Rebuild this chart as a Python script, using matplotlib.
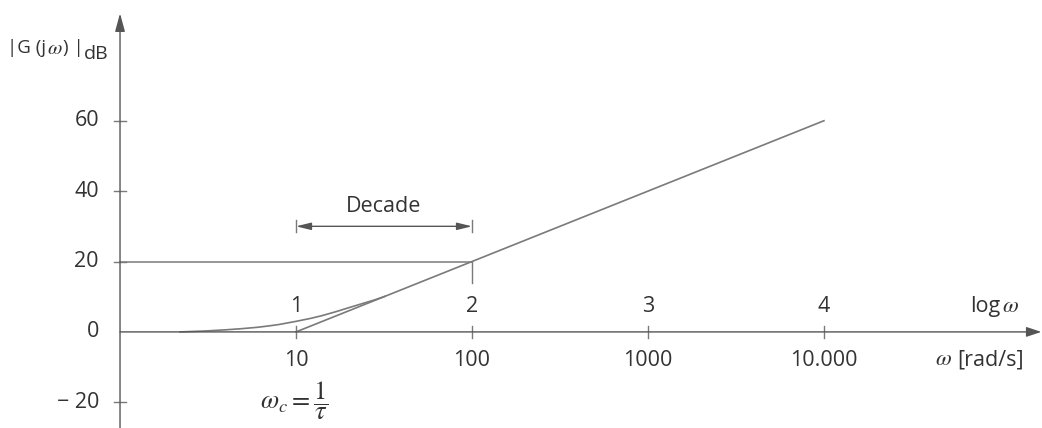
import numpy as np
import matplotlib
matplotlib.use("Agg")
import matplotlib.pyplot as plt

plt.rcParams["mathtext.fontset"] = "stix"

# asymptote (straight-line approximation)
asym_w = [10, 10000]
asym_db = [0, 60]

# exact curve
curve_w = [2.2, 3, 4, 5, 6, 7, 8, 10, 12, 14, 17, 20, 24, 28, 32]
curve_db = [0.0, 0.25, 0.6, 0.95, 1.3, 1.7, 2.1, 3.0, 3.8, 4.6, 5.8, 6.9, 8.1, 9.1, 10.1]

dec_w = [10, 100, 1000, 10000]
dec_lbl = ["10", "100", "1000", "10.000"]
log_lbl = ["1", "2", "3", "4"]
y_ticks = [60, 40, 20, -20]
y_lbl = ["60", "40", "20", "\u2212 20"]

lc = "#7a7a7a"
tc = "#333333"
font = "Open Sans"
fs = 15.5

fig = plt.figure(figsize=(10.42, 4.28), dpi=100)
ax = fig.add_axes([0, 0, 1, 1])
ax.set_xscale("log")
ax.set_xlim(10 ** -0.682, 10 ** 5.239)
ax.set_ylim(-27.3, 94.3)
ax.axis("off")

# axes with arrows
ax.annotate("", xy=(10 ** 5.235, 0), xytext=(1, 0),
            arrowprops=dict(arrowstyle="-|>,head_length=0.9,head_width=0.3",
                            color="#555555", lw=1.0, shrinkA=0, shrinkB=0))
ax.annotate("", xy=(1, 90.5), xytext=(1, -27.3),
            arrowprops=dict(arrowstyle="-|>,head_length=1.1,head_width=0.3",
                            color="#555555", lw=1.0, shrinkA=0, shrinkB=0))

# y ticks and labels
for v, s in zip(y_ticks, y_lbl):
    ax.plot([10 ** -0.035, 10 ** 0.035], [v, v], color=lc, lw=1.0)
    ax.text(10 ** -0.12, v, s, ha="right", va="center", fontsize=fs,
            color=tc, family=font)
ax.text(10 ** -0.12, 0, "0", ha="right", va="center", fontsize=fs,
        color=tc, family=font)

# x ticks and labels
for w, s1, s2 in zip(dec_w, log_lbl, dec_lbl):
    ax.plot([w, w], [-1.6, 1.6], color=lc, lw=1.0)
    ax.text(w, 7.3, s1, ha="center", va="center", fontsize=fs, color=tc, family=font)
    ax.text(w, -8.0, s2, ha="center", va="center", fontsize=fs, color=tc, family=font)

ax.text(10 ** 5.0, 7.3, "log", ha="right", va="center", fontsize=fs,
        color=tc, family=font)
ax.text(10 ** 5.012, 7.6, r"$\omega$", ha="left", va="center", fontsize=fs + 1,
        color=tc)
ax.text(10 ** 4.73, -7.6, r"$\omega$", ha="right", va="center",
        fontsize=fs + 1, color=tc)
ax.text(10 ** 4.755, -8.0, "[rad/s]", ha="left", va="center",
        fontsize=fs, color=tc, family=font)

# y axis label
fl = 13.5
t = ax.text(10 ** -0.64, 80.6, "|G (j", ha="left", va="center",
            fontsize=fl, color=tc, family=font)
t2 = ax.annotate(r"$\omega$", xy=(1, 0.5), xycoords=t, xytext=(0.3, 0.5),
                 textcoords="offset points", ha="left", va="center",
                 fontsize=fl + 1.5, color=tc)
t3 = ax.annotate(") |", xy=(1, 0.5), xycoords=t2, xytext=(0.3, -0.5),
                 textcoords="offset points", ha="left", va="center",
                 fontsize=fl, color=tc, family=font)
ax.annotate("dB", xy=(1, 0), xycoords=t3, xytext=(0, -4.5),
            textcoords="offset points", ha="left", va="bottom",
            fontsize=fl + 0.5, color=tc, family=font)

# curves
ax.plot(asym_w, asym_db, color=lc, lw=1.2)
ax.plot(curve_w, curve_db, color=lc, lw=1.2)

# 20 dB reference
ax.plot([1, 100], [20, 20], color=lc, lw=1.1)
ax.plot([100, 100], [20, 13.8], color=lc, lw=1.0)

# decade arrow
ax.plot([10, 10], [28.3, 31.7], color=lc, lw=1.0)
ax.plot([100, 100], [28.3, 31.7], color=lc, lw=1.0)
ax.annotate("", xy=(100, 30), xytext=(10, 30),
            arrowprops=dict(arrowstyle="<|-|>,head_length=0.9,head_width=0.22",
                            color="#555555", lw=1.0, shrinkA=0, shrinkB=0))
ax.text(10 ** 1.5, 35.6, "Decade", ha="center", va="center", fontsize=fs,
        color=tc, family=font)

# corner frequency label
ax.text(10 ** 0.99, -19.6, r"$\omega_c = \dfrac{1}{\tau}$", ha="center",
        va="center", fontsize=19, color=tc)

fig.savefig("out.png", dpi=100)
